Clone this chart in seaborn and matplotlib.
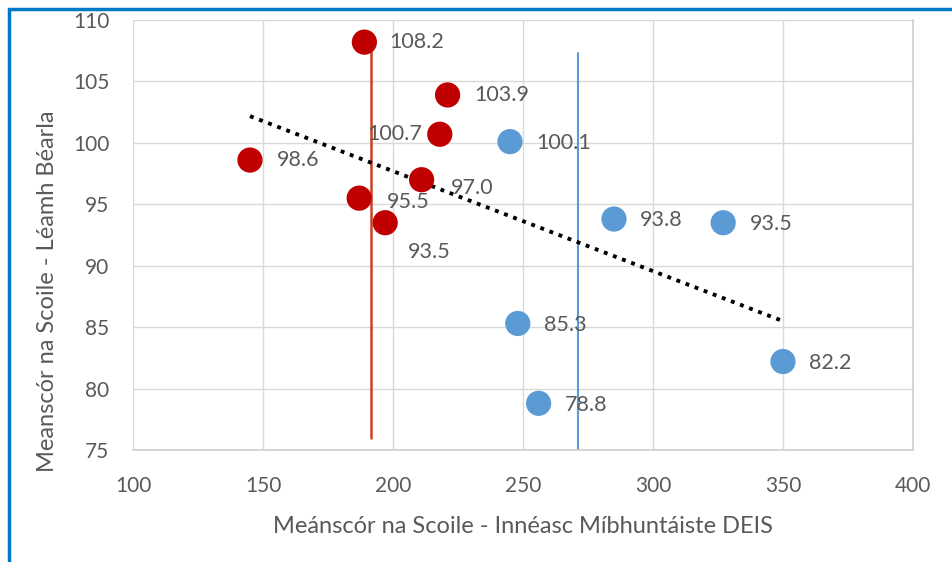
import numpy as np
import pandas as pd
import seaborn as sns
import matplotlib.pyplot as plt
from matplotlib.patches import Rectangle

# values
red_x = [189, 221, 218, 145, 211, 187, 197]
red_y = [108.2, 103.9, 100.7, 98.6, 97.0, 95.5, 93.5]
blue_x = [245, 285, 327, 248, 256, 350]
blue_y = [100.1, 93.8, 93.5, 85.3, 78.8, 82.2]

red_cut = 191.5
red_cut_span = (76.0, 108.2)
blue_cut = 271
blue_cut_span = (75.0, 107.3)

x_label = 'Meánscór na Scoile - Innéasc Míbhuntáiste DEIS'
y_label = 'Meanscór na Scoile - Léamh Béarla'

red = '#C00000'
red_line = '#CC4125'
blue = '#5B9BD5'
text_col = '#595959'

df = pd.DataFrame({
    'x': red_x + blue_x,
    'y': red_y + blue_y,
    'grp': ['red'] * len(red_x) + ['blue'] * len(blue_x),
})

sns.set_style('white')
plt.rcParams['font.family'] = ['Lato', 'DejaVu Sans']

fig = plt.figure(figsize=(9.52, 5.62), dpi=100)
ax = fig.add_axes([0.1397, 0.1993, 0.8193, 0.7651])

# vertical cut-off lines
ax.plot([red_cut, red_cut], red_cut_span, color=red_line, lw=1.8, zorder=2)
ax.plot([blue_cut, blue_cut], blue_cut_span, color=blue, lw=1.5, zorder=2)

# trend line over all schools
sns.regplot(data=df, x='x', y='y', scatter=False, ci=None, truncate=True, ax=ax,
            line_kws=dict(color='black', lw=2.8, linestyle=(0, (1, 1.5))))

sns.scatterplot(data=df, x='x', y='y', hue='grp', palette={'red': red, 'blue': blue},
                s=330, edgecolor='none', legend=False, ax=ax, zorder=3)

# data labels (offsets in points)
offsets = {
    ('red', 0): (18, 0), ('red', 1): (19, 0), ('red', 2): (-13, 0, 'right'),
    ('red', 3): (19, 0), ('red', 4): (21, -6), ('red', 5): (20, -3),
    ('red', 6): (16, -21),
}
for i, (xv, yv) in enumerate(zip(red_x, red_y)):
    o = offsets.get(('red', i), (19, 0))
    ha = o[2] if len(o) > 2 else 'left'
    ax.annotate(f'{yv:.1f}', (xv, yv), xytext=(o[0], o[1]), textcoords='offset points',
                ha=ha, va='center', fontsize=15.5, color=text_col, zorder=4)
for xv, yv in zip(blue_x, blue_y):
    ax.annotate(f'{yv:.1f}', (xv, yv), xytext=(19, -1), textcoords='offset points',
                ha='left', va='center', fontsize=15.5, color=text_col, zorder=4)

ax.set_xlim(100, 400)
ax.set_ylim(75, 110)
ax.set_xticks(np.arange(100, 401, 50))
ax.set_yticks(np.arange(75, 111, 5))
ax.grid(True, color='#D9D9D9', lw=1)
ax.set_axisbelow(True)
for side in ['top', 'left']:
    ax.spines[side].set_visible(False)
for side in ['bottom', 'right']:
    ax.spines[side].set_color('#D0D0D0')
    ax.spines[side].set_linewidth(1.2)
ax.tick_params(length=0, labelsize=15, labelcolor=text_col)
ax.tick_params(axis='x', pad=19)
ax.tick_params(axis='y', pad=17)
ax.set_xlabel(x_label, fontsize=17, color=text_col, va='center')
ax.set_ylabel(y_label, fontsize=17, color=text_col, va='center')
ax.xaxis.set_label_coords(0.5, -0.179)
ax.yaxis.set_label_coords(-0.109, 0.37)

# blue frame around the figure
fig.patches.append(Rectangle((9 / 952, -0.05), 1.2, 1.05 - 9 / 562, transform=fig.transFigure,
                             fill=False, edgecolor='#0078C8', lw=2.5, zorder=10))

plt.savefig('out.png', dpi=100)
plt.close()
